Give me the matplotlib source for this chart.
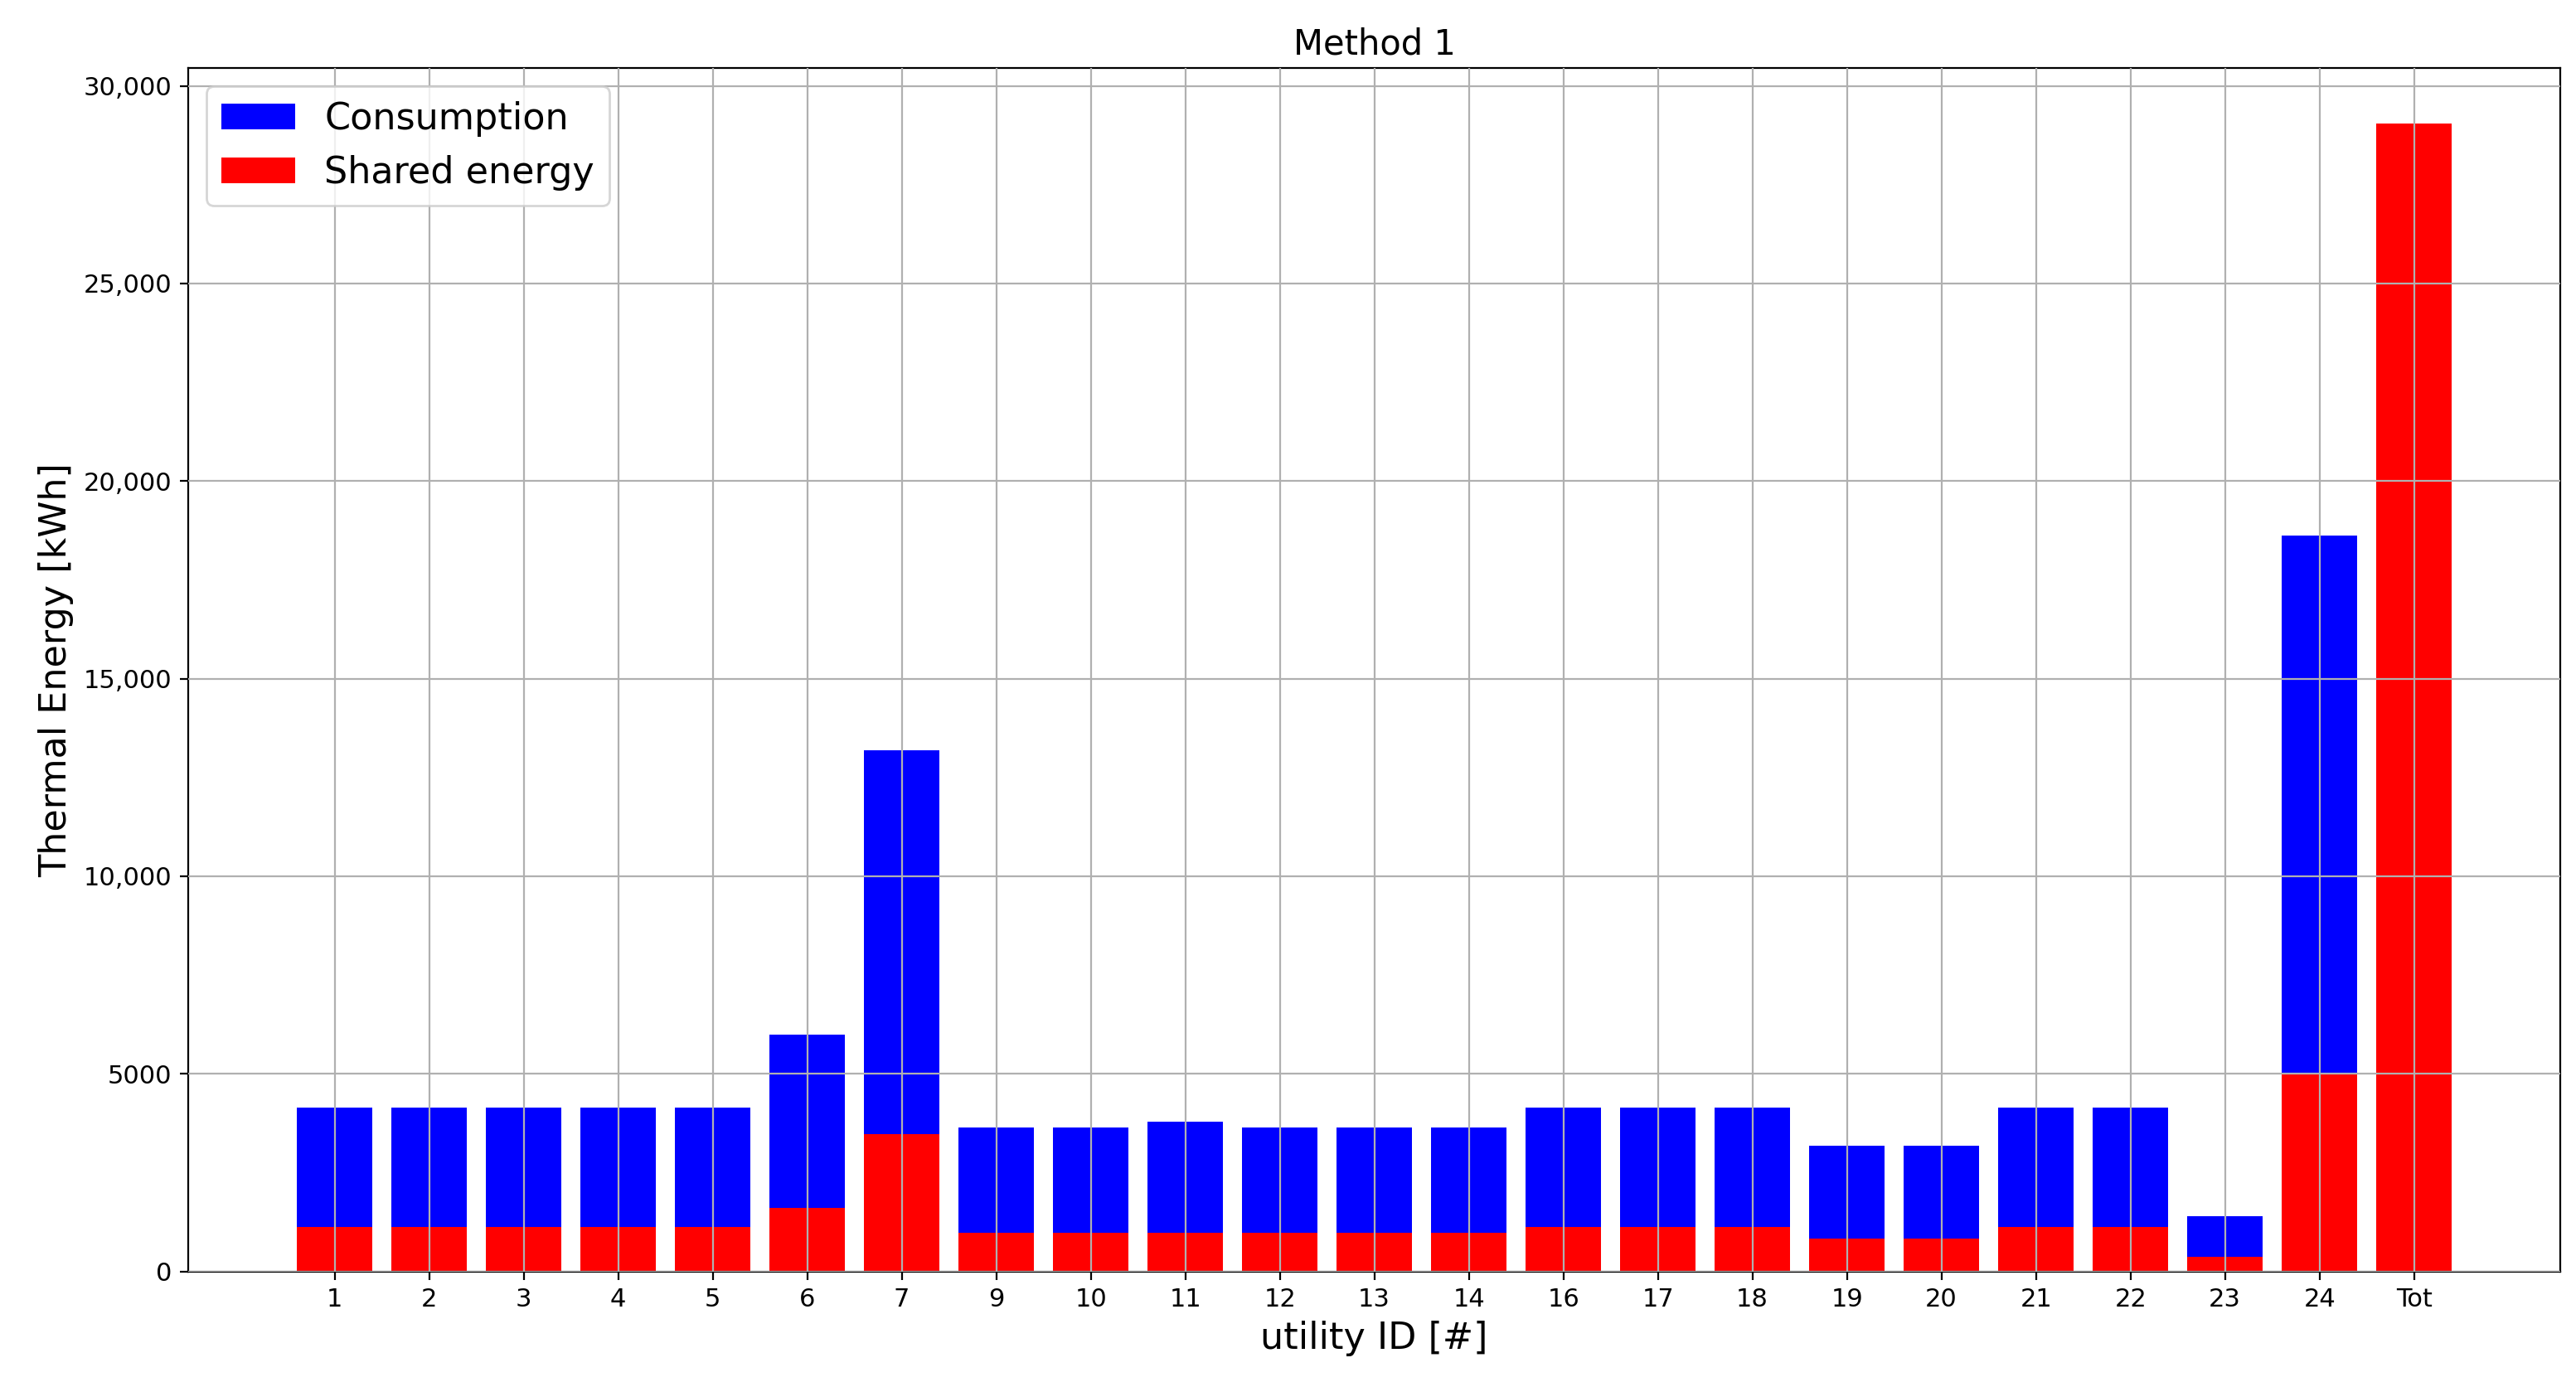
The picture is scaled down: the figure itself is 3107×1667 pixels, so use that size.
import matplotlib.pyplot as plt
from matplotlib.ticker import FuncFormatter
import numpy as np

labels = ['1', '2', '3', '4', '5', '6', '7', '9', '10', '11', '12', '13', '14',
          '16', '17', '18', '19', '20', '21', '22', '23', '24', 'Tot']
consumption = [4150, 4150, 4150, 4150, 4150, 6000, 13180, 3650, 3650, 3780, 3650, 3650, 3650,
               4150, 4150, 4150, 3190, 3190, 4150, 4150, 1390, 18630, 0]
shared = [1130, 1130, 1130, 1130, 1130, 1600, 3480, 970, 970, 970, 970, 970, 970,
          1130, 1130, 1130, 840, 840, 1130, 1130, 380, 4990, 29040]

fig, ax = plt.subplots(figsize=(15.535, 8.335), dpi=200)
x = np.arange(len(labels))
ax.bar(x, consumption, width=0.8, color='blue', label='Consumption')
ax.bar(x, shared, width=0.8, color='red', label='Shared energy')
ax.set_axisbelow(False)
ax.grid(True, color='#b0b0b0', linewidth=0.8)
ax.set_xticks(x)
ax.set_xticklabels(labels)
ax.set_xlim(-1.55, len(labels) - 1 + 1.55)
ax.set_ylim(0, 30460)
ax.yaxis.set_major_formatter(FuncFormatter(lambda v, p: f"{v:,.0f}" if v >= 10000 else f"{v:.0f}"))
ax.tick_params(labelsize=11)
ax.set_title('Method 1', fontsize=15)
ax.set_xlabel('utility ID [#]', fontsize=16)
ax.set_ylabel('Thermal Energy [kWh]', fontsize=16)
ax.legend(loc='upper left', fontsize=16)
plt.subplots_adjust(left=0.073, right=0.994, top=0.951, bottom=0.08)
plt.savefig('out.png')
